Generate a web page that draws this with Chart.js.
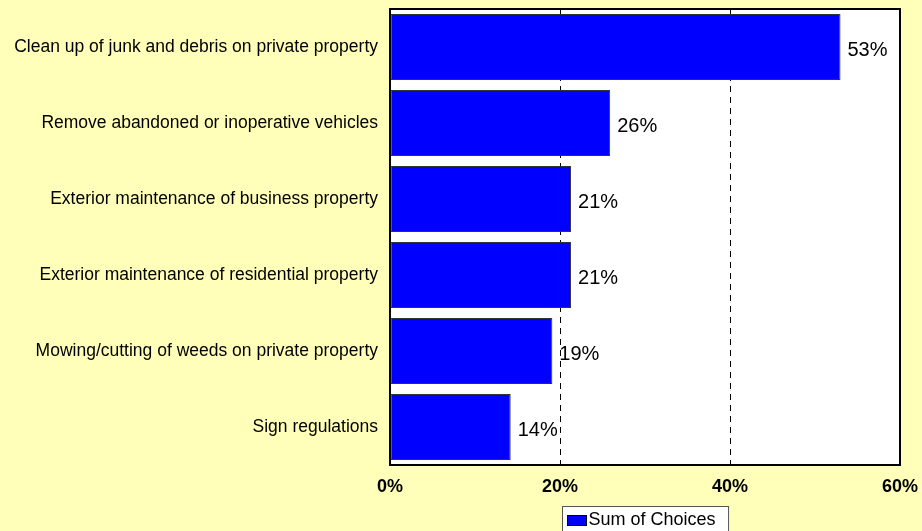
<!DOCTYPE html>
<html lang="en">
<head>
  <meta charset="UTF-8">
  <title>Sum of Choices</title>
  <script src="https://cdn.jsdelivr.net/npm/chart.js"></script>
  <style>
    html, body { margin: 0; padding: 0; background: #FFFFB9; }
    #wrap { width: 922px; height: 531px; }
  </style>
</head>
<body>
  <div id="wrap"><canvas id="myChart" width="922" height="531"></canvas></div>

  <script>
    // 데이터
    const categories = [
      'Clean up of junk and debris on private property',
      'Remove abandoned or inoperative vehicles',
      'Exterior maintenance of business property',
      'Exterior maintenance of residential property',
      'Mowing/cutting of weeds on private property',
      'Sign regulations'
    ];
    const choiceValues = [53.0, 25.9, 21.3, 21.3, 19.1, 14.2];
    const xTicks = [0, 20, 40, 60];
    const seriesName = 'Sum of Choices';

    const FONT = "'Liberation Sans', Arial, sans-serif";

    // 스케일이 자동으로 넣는 여백 제거
    function noPad(scale) {
      scale.paddingTop = 0;
      scale.paddingBottom = 0;
      scale.paddingLeft = 0;
      scale.paddingRight = 0;
    }

    // 흰색 플롯 영역 + 테두리 + 값 라벨 + 범례
    const decorPlugin = {
      id: 'decor',
      beforeDraw(chart) {
        const { ctx, chartArea: a } = chart;
        ctx.save();
        ctx.fillStyle = '#ffffff';
        ctx.fillRect(a.left, a.top, a.right - a.left, a.bottom - a.top);
        ctx.restore();
      },
      afterDraw(chart) {
        const { ctx, chartArea: a } = chart;
        ctx.save();
        ctx.strokeStyle = '#000';
        ctx.lineWidth = 2;
        ctx.strokeRect(a.left, a.top, a.right - a.left, a.bottom - a.top);

        // 값 라벨
        const meta = chart.getDatasetMeta(0);
        ctx.font = '20px ' + FONT;
        ctx.fillStyle = '#000';
        ctx.textAlign = 'left';
        ctx.textBaseline = 'middle';
        meta.data.forEach((bar, i) => {
          ctx.fillText(Math.round(choiceValues[i]) + '%', bar.x + 7, bar.y + 3);
        });

        // 범례
        const ds = chart.data.datasets[0];
        ctx.font = '18px ' + FONT;
        const tw = ctx.measureText(ds.label).width;
        const w = 5 + 19 + 2 + tw + 13;
        const cx = (a.left + a.right) / 2;
        const x0 = Math.round(cx - w / 2) + 0.5;
        const y0 = a.bottom + 41.5;
        ctx.fillStyle = '#fff';
        ctx.fillRect(x0, y0, w, 32);
        ctx.lineWidth = 1;
        ctx.strokeStyle = '#555';
        ctx.strokeRect(x0, y0, w, 32);
        ctx.fillStyle = ds.backgroundColor;
        ctx.fillRect(x0 + 5, y0 + 9, 19, 10);
        ctx.strokeStyle = '#000';
        ctx.strokeRect(x0 + 5, y0 + 9, 19, 10);
        ctx.fillStyle = '#000';
        ctx.textBaseline = 'middle';
        ctx.fillText(ds.label, x0 + 26, y0 + 14);
        ctx.restore();
      }
    };

    const ctx = document.getElementById('myChart').getContext('2d');
    const myChart = new Chart(ctx, {
      type: 'bar',
      data: {
        labels: categories,
        datasets: [{
          label: seriesName,
          data: choiceValues,
          backgroundColor: '#0000FF',
          borderColor: '#333333',
          borderWidth: 1,
          borderSkipped: false,
          categoryPercentage: 1.0,
          barPercentage: 0.87
        }]
      },
      options: {
        indexAxis: 'y',
        responsive: false,
        animation: false,
        layout: { padding: { top: 9, right: 22, bottom: 36, left: 0 } },
        plugins: {
          legend: { display: false },
          tooltip: { enabled: false }
        },
        scales: {
          x: {
            min: 0,
            max: 60,
            afterBuildTicks(scale) {
              scale.ticks = xTicks.map(v => ({ value: v }));
            },
            afterFit(scale) { scale.height = 30; noPad(scale); },
            grid: {
              drawTicks: false,
              lineWidth: 1,
              color: c => (c.tick && (c.tick.value === 20 || c.tick.value === 40)) ? '#000' : 'rgba(0,0,0,0)'
            },
            border: { display: false, dash: [6, 5] },
            ticks: {
              padding: 11,
              color: '#000',
              font: { family: FONT, size: 18, weight: 'bold' },
              callback: v => v + '%'
            }
          },
          y: {
            afterFit(scale) { scale.width = 390; noPad(scale); },
            grid: { display: false, drawTicks: false },
            border: { display: false },
            ticks: {
              padding: 12,
              color: '#000',
              font: { family: FONT, size: 17.5 }
            }
          }
        }
      },
      plugins: [decorPlugin]
    });
  </script>
</body>
</html>
